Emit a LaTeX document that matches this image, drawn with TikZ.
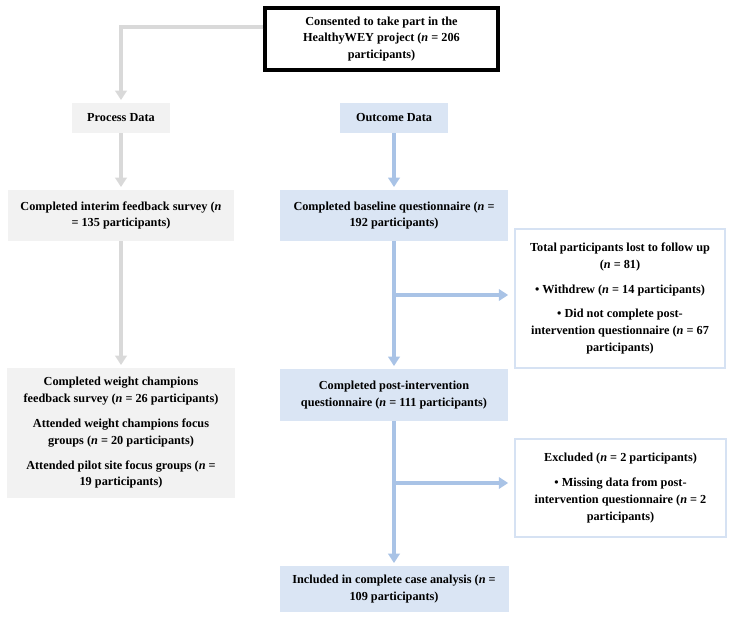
\documentclass[tikz,border=0pt]{standalone}
\usepackage{fontspec}
\setmainfont{Liberation Serif}
\usetikzlibrary{arrows.meta}
\definecolor{grayfill}{HTML}{F2F2F2}
\definecolor{grayline}{HTML}{D9D9D9}
\definecolor{bluefill}{HTML}{DAE5F4}
\definecolor{blueline}{HTML}{A9C3E6}
\definecolor{blueborder}{HTML}{D6E2F3}
\begin{document}
\begin{tikzpicture}[x=0.75pt,y=-0.75pt,
 txt/.style={font=\fontsize{9.2pt}{12.6pt}\selectfont\bfseries, align=center, inner sep=0pt},
 graybox/.style={txt, fill=grayfill},
 bluebox/.style={txt, fill=bluefill},
 sidebox/.style={txt, fill=white, draw=blueborder, line width=2.2pt},
 topbox/.style={txt, fill=white, draw=black, line width=2.6pt},
 gline/.style={draw=grayline, line width=2.3pt, -{Triangle[width=8.5pt,length=7pt]}, shorten >=2pt},
 bline/.style={draw=blueline, line width=2.3pt, -{Triangle[width=8.5pt,length=7pt]}, shorten >=2pt},
]
\useasboundingbox (0,0) rectangle (735,624);
\node[topbox, minimum width=174.75pt, minimum height=46.5pt] (top) at (381.5,39)
  {Consented to take part in the\\ HealthyWEY project (\textit{n} = 206\\ participants)};
\node[graybox, minimum width=73.5pt, minimum height=22.5pt] (pd) at (121,118) {Process Data};
\node[bluebox, minimum width=81pt, minimum height=22.5pt] (od) at (394,118) {Outcome Data};
\node[graybox, minimum width=169.5pt, minimum height=38.25pt] (interim) at (121,215.5)
  {Completed interim feedback survey (\textit{n}\\ = 135 participants)};
\node[bluebox, minimum width=171pt, minimum height=38.25pt] (base) at (394,215.5)
  {Completed baseline questionnaire (\textit{n} =\\ 192 participants)};
\node[sidebox, minimum width=157.5pt, minimum height=104.25pt] (lost) at (620,298.5)
  {Total participants lost to follow up\\ (\textit{n} = 81)\\[6pt]
   • Withdrew (\textit{n} = 14 participants)\\[6pt]
   • Did not complete post-\\ intervention questionnaire (\textit{n} = 67\\ participants)};
\node[graybox, minimum width=171pt, minimum height=97.5pt] (weight) at (121,433)
  {Completed weight champions\\ feedback survey (\textit{n} = 26 participants)\\[6pt]
   Attended weight champions focus\\ groups (\textit{n} = 20 participants)\\[6pt]
   Attended pilot site focus groups (\textit{n} =\\ 19 participants)};
\node[bluebox, minimum width=171pt, minimum height=39pt] (post) at (394,395)
  {Completed post-intervention\\ questionnaire (\textit{n} = 111 participants)};
\node[sidebox, minimum width=158.25pt, minimum height=73.5pt] (excl) at (620.5,488)
  {Excluded (\textit{n} = 2 participants)\\[6pt]
   • Missing data from post-\\ intervention questionnaire (\textit{n} = 2\\ participants)};
\node[bluebox, minimum width=171.75pt, minimum height=34.5pt] (incl) at (394,589)
  {Included in complete case analysis (\textit{n} =\\ 109 participants)};
\draw[gline] ([yshift=9pt]top.west) -| (pd.north);
\draw[gline] (pd) -- (interim);
\draw[gline] (interim) -- (weight);
\draw[bline] (od) -- (base);
\draw[bline] (base) -- (post);
\draw[bline] (post) -- (incl);
\coordinate (b1) at (394,295);
\coordinate (b2) at (394,483);
\draw[bline, shorten >=4pt] (b1) -- (b1 -| lost.west);
\draw[bline, shorten >=4pt] (b2) -- (b2 -| excl.west);
\end{tikzpicture}
\end{document}
